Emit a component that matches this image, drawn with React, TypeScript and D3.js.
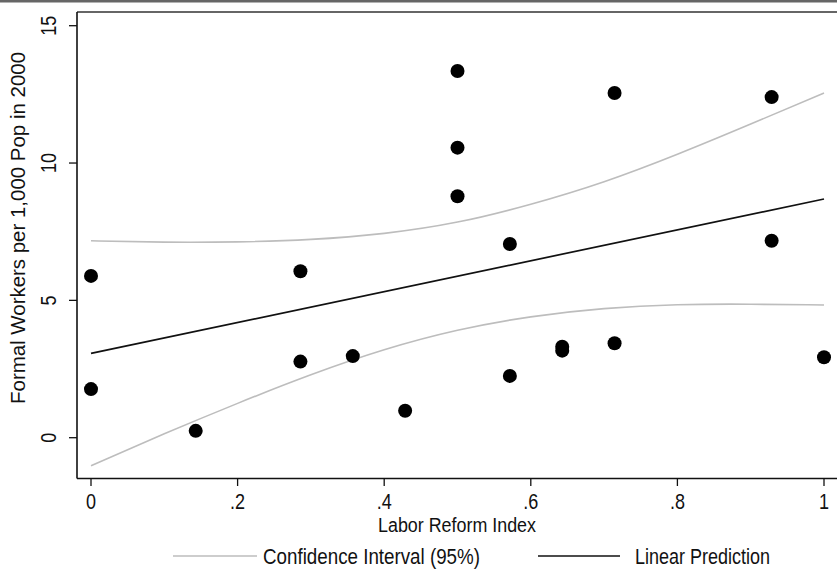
import React from "react";
import * as d3 from "d3";

// Observations: labor reform index vs. formal workers per 1,000 population
const reformIndex = [0, 0, 0.142857, 0.285714, 0.285714, 0.357143, 0.428571, 0.5, 0.5, 0.5, 0.571429, 0.571429, 0.642857, 0.642857, 0.714286, 0.714286, 0.928571, 0.928571, 1];
const formalWorkers = [5.89, 1.77, 0.25, 6.06, 2.77, 2.97, 0.98, 13.35, 10.56, 8.79, 7.05, 2.25, 3.31, 3.17, 12.55, 3.44, 12.4, 7.17, 2.93];

// Fitted linear prediction (end points)
const fitX = [0, 1];
const fitY = [3.07, 8.69];

// 95% confidence band of the prediction
const ciX = [0, 0.1, 0.2, 0.3, 0.4, 0.5, 0.6, 0.7, 0.8, 0.9, 1];
const ciUpper = [7.17, 7.12, 7.13, 7.22, 7.44, 7.85, 8.5, 9.32, 10.32, 11.42, 12.55];
const ciLower = [-1.02, 0.14, 1.25, 2.29, 3.2, 3.91, 4.4, 4.7, 4.84, 4.86, 4.83];

const xTicks = [0, 0.2, 0.4, 0.6, 0.8, 1];
const xTickLabels = ["0", ".2", ".4", ".6", ".8", "1"];
const yTicks = [0, 5, 10, 15];

const xTitle = "Labor Reform Index";
const yTitle = "Formal Workers per 1,000 Pop in 2000";
const legendLabels = ["Confidence Interval (95%)", "Linear Prediction"];

const W = 837;
const H = 583;
const FONT = "'Liberation Sans', Arial, sans-serif";
const NARROW = 0.82;
const INK = "#111";
const BAND = "#bdbdbd";

export default function App() {
  const x = d3.scaleLinear().domain([0, 1]).range([91, 824]);
  const y = d3.scaleLinear().domain([0, 15]).range([437.7, 25.7]);

  const left = 77;
  const top = 12;
  const bottom = 478.5;

  const line = d3
    .line<[number, number]>()
    .x((d) => x(d[0]))
    .y((d) => y(d[1]));
  const curve = d3
    .line<[number, number]>()
    .x((d) => x(d[0]))
    .y((d) => y(d[1]))
    .curve(d3.curveNatural);

  const upperPts = ciX.map((v, i) => [v, ciUpper[i]] as [number, number]);
  const lowerPts = ciX.map((v, i) => [v, ciLower[i]] as [number, number]);
  const fitPts = fitX.map((v, i) => [v, fitY[i]] as [number, number]);

  return (
    <div style={{ position: "absolute", left: 0, top: 0 }}>
      <svg width={W} height={H} style={{ display: "block", background: "#fff" }}>
        {/* header rule */}
        <rect x={0} y={0} width={W} height={2.5} fill="#666" />

        {/* plot frame */}
        <line x1={left} x2={W + 5} y1={top} y2={top} stroke="#333" strokeWidth={1.3} />
        <line x1={left} x2={left} y1={top} y2={bottom} stroke={INK} strokeWidth={1.6} />
        <line x1={left} x2={W + 5} y1={bottom} y2={bottom} stroke={INK} strokeWidth={1.6} />

        {/* confidence band */}
        <path d={curve(upperPts) || ""} fill="none" stroke={BAND} strokeWidth={1.6} />
        <path d={curve(lowerPts) || ""} fill="none" stroke={BAND} strokeWidth={1.6} />

        {/* linear prediction */}
        <path d={line(fitPts) || ""} fill="none" stroke={INK} strokeWidth={1.7} />

        {/* observations */}
        {reformIndex.map((v, i) => (
          <circle key={i} cx={x(v)} cy={y(formalWorkers[i])} r={7} fill="#000" />
        ))}

        {/* y axis */}
        {yTicks.map((t) => (
          <g key={"y" + t}>
            <line x1={69} x2={left} y1={y(t)} y2={y(t)} stroke={INK} strokeWidth={1.3} />
            <g transform={`translate(56, ${y(t)}) rotate(-90) scale(${NARROW}, 1)`}>
              <text textAnchor="middle" fontFamily={FONT} fontSize={22} fill={INK}>
                {t}
              </text>
            </g>
          </g>
        ))}
        <text
          transform={`translate(25, 228) rotate(-90)`}
          textAnchor="middle"
          fontFamily={FONT}
          fontSize={19.5}
          fill={INK}
          textLength={352}
          lengthAdjust="spacingAndGlyphs"
        >
          {yTitle}
        </text>

        {/* x axis */}
        {xTicks.map((t, i) => (
          <g key={"x" + t}>
            <line x1={x(t)} x2={x(t)} y1={bottom} y2={486} stroke={INK} strokeWidth={1.3} />
            <g transform={`translate(${x(t)}, 509) scale(${NARROW}, 1)`}>
              <text textAnchor="middle" fontFamily={FONT} fontSize={22} fill={INK}>
                {xTickLabels[i]}
              </text>
            </g>
          </g>
        ))}
        <text
          x={378}
          y={532}
          fontFamily={FONT}
          fontSize={19.5}
          fill={INK}
          textLength={158}
          lengthAdjust="spacingAndGlyphs"
        >
          {xTitle}
        </text>

        {/* legend */}
        <line x1={173} x2={257} y1={556} y2={556} stroke={BAND} strokeWidth={1.6} />
        <text
          x={263}
          y={564}
          fontFamily={FONT}
          fontSize={22}
          fill={INK}
          textLength={217}
          lengthAdjust="spacingAndGlyphs"
        >
          {legendLabels[0]}
        </text>
        <line x1={538} x2={620} y1={556} y2={556} stroke={INK} strokeWidth={1.7} />
        <text
          x={635}
          y={564}
          fontFamily={FONT}
          fontSize={22}
          fill={INK}
          textLength={135}
          lengthAdjust="spacingAndGlyphs"
        >
          {legendLabels[1]}
        </text>
      </svg>
    </div>
  );
}
